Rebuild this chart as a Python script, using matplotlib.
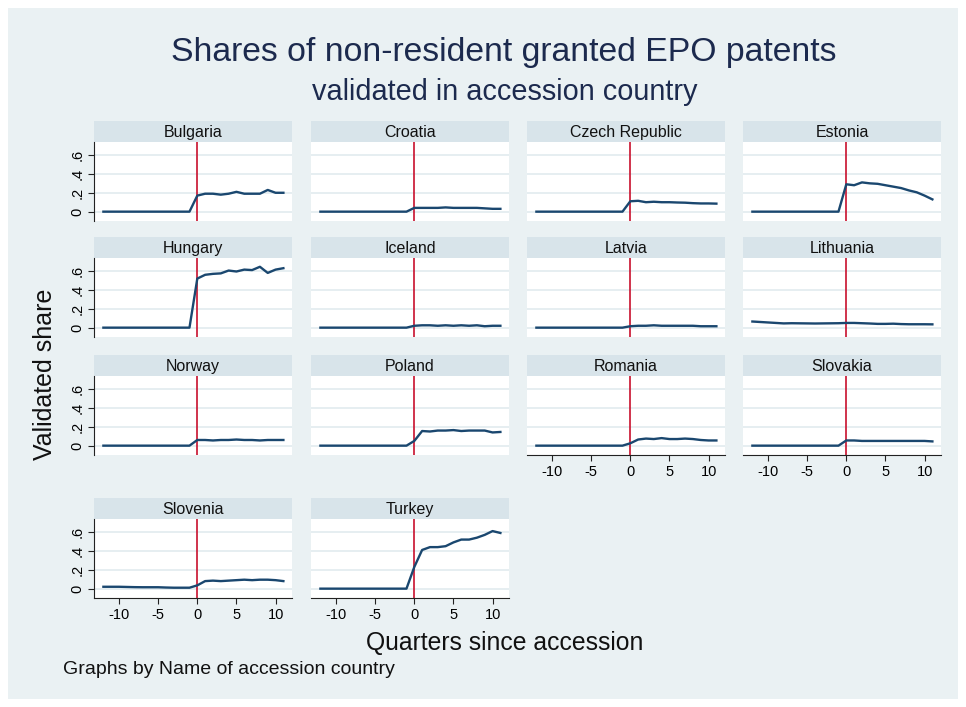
import matplotlib.pyplot as plt
from matplotlib.patches import Rectangle

plt.rcParams['font.family'] = ['Liberation Sans', 'DejaVu Sans']

# quarters relative to accession
quarters = list(range(-12, 12))

countries = ["Bulgaria", "Croatia", "Czech Republic", "Estonia",
             "Hungary", "Iceland", "Latvia", "Lithuania",
             "Norway", "Poland", "Romania", "Slovakia",
             "Slovenia", "Turkey"]

pre_zero = [0.0] * 12
bulgaria = pre_zero + [0.17, 0.19, 0.19, 0.18, 0.19, 0.21, 0.19, 0.19, 0.19, 0.23, 0.20, 0.20]
croatia = pre_zero + [0.04, 0.04, 0.04, 0.04, 0.045, 0.04, 0.04, 0.04, 0.04, 0.035, 0.03, 0.03]
czech = pre_zero + [0.11, 0.115, 0.10, 0.105, 0.10, 0.10, 0.097, 0.095, 0.09, 0.087, 0.087, 0.085]
estonia = pre_zero + [0.29, 0.28, 0.31, 0.30, 0.295, 0.28, 0.265, 0.25, 0.225, 0.205, 0.17, 0.13]
hungary = pre_zero + [0.52, 0.56, 0.57, 0.575, 0.605, 0.595, 0.615, 0.61, 0.645, 0.58, 0.615, 0.63]
iceland = pre_zero + [0.02, 0.025, 0.025, 0.02, 0.025, 0.02, 0.025, 0.02, 0.025, 0.015, 0.02, 0.02]
latvia = pre_zero + [0.015, 0.02, 0.02, 0.025, 0.02, 0.02, 0.02, 0.02, 0.02, 0.015, 0.015, 0.015]
lithuania = [0.065, 0.06, 0.055, 0.05, 0.045, 0.047, 0.046, 0.045, 0.044, 0.045, 0.046, 0.047,
             0.05, 0.05, 0.047, 0.044, 0.04, 0.04, 0.042, 0.038, 0.036, 0.036, 0.036, 0.035]
norway = pre_zero + [0.06, 0.06, 0.055, 0.06, 0.06, 0.065, 0.06, 0.06, 0.055, 0.06, 0.06, 0.06]
poland = pre_zero + [0.05, 0.155, 0.15, 0.16, 0.16, 0.165, 0.155, 0.16, 0.16, 0.16, 0.14, 0.145]
romania = pre_zero + [0.025, 0.065, 0.075, 0.07, 0.08, 0.07, 0.07, 0.075, 0.07, 0.06, 0.055, 0.055]
slovakia = pre_zero + [0.055, 0.055, 0.05, 0.05, 0.05, 0.05, 0.05, 0.05, 0.05, 0.05, 0.05, 0.045]
slovenia = [0.02, 0.02, 0.02, 0.018, 0.016, 0.015, 0.015, 0.015, 0.012, 0.01, 0.01, 0.01,
            0.035, 0.08, 0.085, 0.08, 0.085, 0.09, 0.095, 0.09, 0.095, 0.095, 0.09, 0.08]
turkey = pre_zero + [0.23, 0.41, 0.44, 0.44, 0.45, 0.49, 0.52, 0.52, 0.54, 0.57, 0.61, 0.59]

series = [bulgaria, croatia, czech, estonia, hungary, iceland, latvia, lithuania,
          norway, poland, romania, slovakia, slovenia, turkey]

y_ticks = [0, 0.2, 0.4, 0.6]
y_tick_labels = ["0", ".2", ".4", ".6"]
x_ticks = [-10, -5, 0, 5, 10]

W, H = 966, 707
BG = '#eaf1f3'
STRIP = '#d8e4ea'
LINE = '#1a476f'
VLINE = '#c8102e'


def px(x0, y0, w, h):
    return [x0 / W, 1 - (y0 + h) / H, w / W, h / H]


fig = plt.figure(figsize=(W / 100, H / 100), dpi=100, facecolor='white')
fig.patches.append(Rectangle((8 / W, 8 / H), 1 - 16 / W, 1 - 16 / H,
                             transform=fig.transFigure, facecolor=BG,
                             edgecolor='none', zorder=-10))

col_left = [94, 311, 527, 743]
row_top = [142, 258, 376, 519]
pw, ph, sh = 198, 79, 21

with_x = {"Romania", "Slovakia", "Slovenia", "Turkey"}

for i, (name, vals) in enumerate(zip(countries, series)):
    r, c = divmod(i, 4)
    x0, y0 = col_left[c], row_top[r]

    # strip header
    sax = fig.add_axes(px(x0, y0 - sh, pw, sh))
    sax.set_facecolor(STRIP)
    sax.set_xticks([])
    sax.set_yticks([])
    for s in sax.spines.values():
        s.set_visible(False)
    sax.text(0.5, 0.45, name, ha='center', va='center', fontsize=11.5, color='#111111')

    ax = fig.add_axes(px(x0, y0, pw, ph))
    ax.set_facecolor('white')
    ax.set_xlim(-13.2, 12.1)
    ax.set_ylim(-0.099, 0.738)
    for yv in y_ticks:
        ax.axhline(yv, color='#e6eef1', lw=1.4, zorder=1)
    ax.axvline(0, color=VLINE, lw=1.2, zorder=2)
    ax.plot(quarters, vals, color=LINE, lw=1.7, zorder=3)

    for s in ax.spines.values():
        s.set_visible(False)

    if c == 0:
        ax.spines['left'].set_visible(True)
        ax.spines['left'].set_color('#222222')
        ax.set_yticks(y_ticks)
        ax.set_yticklabels(y_tick_labels, rotation=90, va='center', fontsize=10.5)
        ax.tick_params(axis='y', length=4, width=0.8, pad=3, color='#222222')
    else:
        ax.set_yticks([])

    if name in with_x:
        ax.spines['bottom'].set_visible(True)
        ax.spines['bottom'].set_color('#222222')
        ax.set_xticks(x_ticks)
        ax.set_xticklabels([str(t) for t in x_ticks], fontsize=10.5)
        ax.tick_params(axis='x', length=4, width=0.8, pad=3, color='#222222')
    else:
        ax.set_xticks([])

title_color = '#1c2a4e'
fig.text(504 / W, 1 - 52 / H, "Shares of non-resident granted EPO patents",
         ha='center', va='center', fontsize=24.3, color=title_color)
fig.text(505 / W, 1 - 92 / H, "validated in accession country",
         ha='center', va='center', fontsize=20.8, color=title_color)
fig.text(45 / W, 1 - 374 / H, "Validated share", rotation=90,
         ha='center', va='center', fontsize=18, color='#111111')
fig.text(505 / W, 1 - 643 / H, "Quarters since accession",
         ha='center', va='center', fontsize=17.8, color='#111111')
fig.text(63 / W, 1 - 670 / H, "Graphs by Name of accession country",
         ha='left', va='center', fontsize=14, color='#111111')

fig.savefig('out.png', dpi=100, facecolor='white')
